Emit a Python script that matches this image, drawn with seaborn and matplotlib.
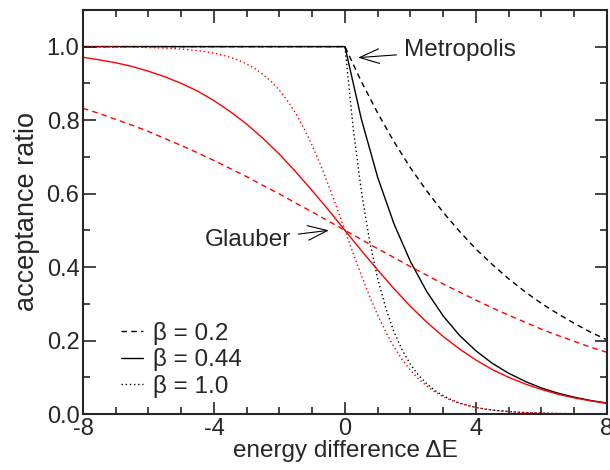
import numpy as np
import pandas as pd
import matplotlib
matplotlib.use('Agg')
import matplotlib.pyplot as plt
from matplotlib.lines import Line2D
import seaborn as sns

# energy grid (0.5 steps for the flat curves, 0.25 for beta = 1)
x_half = [-8.0, -7.5, -7.0, -6.5, -6.0, -5.5, -5.0, -4.5, -4.0, -3.5, -3.0, -2.5, -2.0, -1.5, -1.0, -0.5,
          0.0, 0.5, 1.0, 1.5, 2.0, 2.5, 3.0, 3.5, 4.0, 4.5, 5.0, 5.5, 6.0, 6.5, 7.0, 7.5, 8.0]
x_quarter = [-8.0, -7.75, -7.5, -7.25, -7.0, -6.75, -6.5, -6.25, -6.0, -5.75, -5.5, -5.25, -5.0, -4.75, -4.5, -4.25,
             -4.0, -3.75, -3.5, -3.25, -3.0, -2.75, -2.5, -2.25, -2.0, -1.75, -1.5, -1.25, -1.0, -0.75, -0.5, -0.25,
             0.0, 0.25, 0.5, 0.75, 1.0, 1.25, 1.5, 1.75, 2.0, 2.25, 2.5, 2.75, 3.0, 3.25, 3.5, 3.75,
             4.0, 4.25, 4.5, 4.75, 5.0, 5.25, 5.5, 5.75, 6.0, 6.25, 6.5, 6.75, 7.0, 7.25, 7.5, 7.75, 8.0]

# Metropolis (black)
metro_02 = [1.0] * 17 + [0.905, 0.819, 0.741, 0.670, 0.607, 0.549, 0.497, 0.449,
                         0.407, 0.368, 0.333, 0.301, 0.273, 0.247, 0.223, 0.202]
metro_044 = [1.0] * 17 + [0.803, 0.644, 0.517, 0.415, 0.333, 0.267, 0.214, 0.172,
                          0.138, 0.111, 0.089, 0.071, 0.057, 0.046, 0.037, 0.030]
metro_10 = [1.0] * 33 + [0.779, 0.607, 0.472, 0.368, 0.287, 0.223, 0.174, 0.135,
                         0.105, 0.082, 0.064, 0.050, 0.039, 0.030, 0.024, 0.018,
                         0.014, 0.011, 0.009, 0.007, 0.005, 0.004, 0.003, 0.0025,
                         0.002, 0.0015, 0.0012, 0.0009, 0.0007, 0.0006, 0.0004, 0.0003]

# Glauber (red)
glauber_02 = [0.832, 0.818, 0.802, 0.786, 0.769, 0.750, 0.731, 0.711, 0.690, 0.668, 0.646, 0.622, 0.599,
              0.574, 0.550, 0.525, 0.500, 0.475, 0.450, 0.426, 0.401, 0.378, 0.354, 0.332, 0.310,
              0.289, 0.269, 0.250, 0.231, 0.214, 0.198, 0.182, 0.168]
glauber_044 = [0.971, 0.964, 0.956, 0.946, 0.933, 0.918, 0.900, 0.879, 0.853, 0.823, 0.789, 0.750, 0.707,
               0.659, 0.608, 0.555, 0.500, 0.445, 0.392, 0.341, 0.293, 0.250, 0.211, 0.177, 0.147,
               0.121, 0.100, 0.082, 0.067, 0.054, 0.044, 0.036, 0.029]
glauber_10 = [0.9997, 0.9996, 0.9994, 0.9993, 0.9991, 0.9988, 0.9985, 0.9981, 0.9975, 0.9968, 0.9959, 0.9948,
              0.9933, 0.9914, 0.989, 0.986, 0.982, 0.977, 0.971, 0.963, 0.953, 0.940, 0.924, 0.905, 0.881,
              0.852, 0.818, 0.777, 0.731, 0.679, 0.622, 0.562, 0.500, 0.438, 0.378, 0.321, 0.269, 0.223,
              0.182, 0.148, 0.119, 0.095, 0.076, 0.060, 0.047, 0.037, 0.029, 0.023, 0.018, 0.014, 0.011,
              0.0086, 0.0067, 0.0052, 0.0041, 0.0032, 0.0025, 0.0019, 0.0015, 0.0012, 0.0009, 0.0007,
              0.0006, 0.0004, 0.0003]

beta_labels = ['β = 0.2', 'β = 0.44', 'β = 1.0']
dash_styles = [(0, (4, 3)), '-', (0, (1, 2))]

sns.set_style('ticks')
plt.rcParams['font.family'] = ['Liberation Sans', 'DejaVu Sans']
plt.rcParams['axes.unicode_minus'] = False
plt.rcParams['xtick.direction'] = 'in'
plt.rcParams['ytick.direction'] = 'in'

fig = plt.figure(figsize=(6.1, 4.7), dpi=100)
ax = fig.add_axes([0.136, 0.119, 0.859, 0.860])

curves = [
    (x_half, metro_02, 'black', dash_styles[0]),
    (x_half, metro_044, 'black', dash_styles[1]),
    (x_quarter, metro_10, 'black', dash_styles[2]),
    (x_half, glauber_02, 'red', dash_styles[0]),
    (x_half, glauber_044, 'red', dash_styles[1]),
    (x_quarter, glauber_10, 'red', dash_styles[2]),
]
for xs, ys, col, ls in curves:
    sns.lineplot(x=xs, y=ys, ax=ax, color=col, linestyle=ls, lw=1.0, estimator=None, sort=False)

ax.set_xlim(-8, 8)
ax.set_ylim(0, 1.1)
ax.set_xticks([-8, -4, 0, 4, 8])
ax.set_xticks(np.arange(-8, 9, 1), minor=True)
ax.set_yticks([0.0, 0.2, 0.4, 0.6, 0.8, 1.0])
ax.set_yticks(np.arange(0, 1.11, 0.1), minor=True)
ax.set_yticklabels(['0.0', '0.2', '0.4', '0.6', '0.8', '1.0'])
ax.tick_params(which='both', top=True, right=True, direction='in', width=1.2, labelsize=17)
ax.tick_params(which='major', length=9)
ax.tick_params(which='minor', length=5)
ax.tick_params(axis='y', pad=2.5)
ax.tick_params(axis='x', pad=2.5)
for sp in ax.spines.values():
    sp.set_linewidth(1.5)

ax.set_xlabel('energy difference ΔE', fontsize=17.5, labelpad=0)
ax.set_ylabel('acceptance ratio', fontsize=19.5, labelpad=5)

arrow = dict(arrowstyle='->,head_length=0.8,head_width=0.3', lw=0.8, color='black', shrinkA=3, shrinkB=0)
ax.annotate('Metropolis', xy=(0.4, 0.97), xytext=(1.8, 0.99), fontsize=17.5,
            ha='left', va='center', arrowprops=arrow)
ax.annotate('Glauber', xy=(-0.49, 0.50), xytext=(-1.65, 0.473), fontsize=17.5,
            ha='right', va='center', arrowprops=arrow)

handles = [Line2D([], [], color='black', lw=1.0, linestyle=ls) for ls in dash_styles]
ax.legend(handles, beta_labels, loc='lower left', bbox_to_anchor=(0.0725, 0.04), frameon=False,
          fontsize=17.5, handlelength=0.9, handletextpad=0.4, labelspacing=0.15,
          borderaxespad=0, borderpad=0)

fig.savefig('out.png', dpi=100)
